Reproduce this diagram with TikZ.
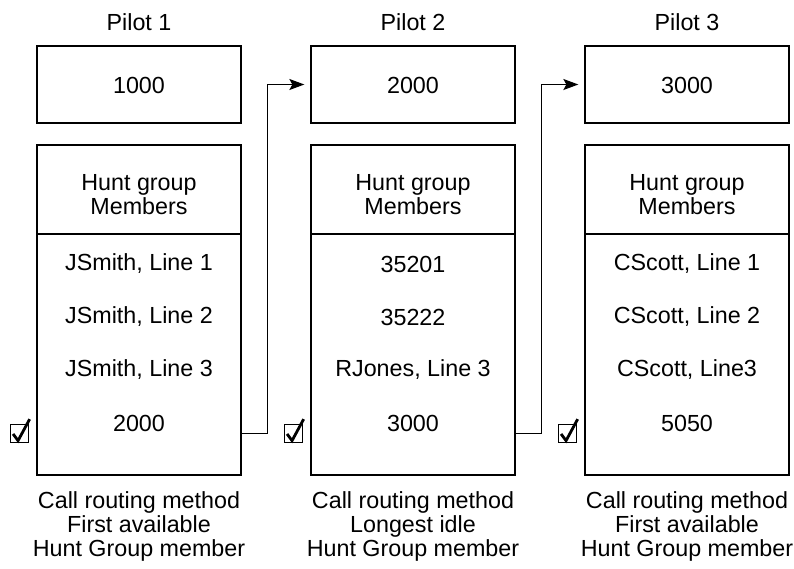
\documentclass[tikz,border=0pt]{standalone}
\usepackage{fontspec}
\setmainfont{Liberation Sans}
\usetikzlibrary{arrows.meta}
\tikzset{
  frame/.style={draw, line width=1.3pt, minimum width=204pt, inner sep=0pt},
  lbl/.style={font=\fontsize{23.3}{24}\selectfont, align=center, inner sep=0pt},
  route/.style={line width=1.3pt, -{Stealth[length=15pt,width=11pt,inset=3pt]}, shorten >=6pt},
  chkbox/.pic={
    \draw[line width=1pt] (0,0) rectangle (18,-18);
    \draw[line width=2.8pt, line join=miter] (2.7,-8.7) -- (7.7,-2) -- (19.3,-23.5);
  }
}
\begin{document}
\begin{tikzpicture}[x=1pt, y=-1pt]
    \useasboundingbox (0,0) rectangle (794,568);

    % Pilot 1
    \node[lbl] (t1) at (139,22) {Pilot 1};
    \node[frame, minimum height=77pt] (p1) at (139,84.5) {};
    \node[lbl] (n1) at (139,85) {1000};
    \node[frame, minimum height=89pt] (h1) at (139,189.5) {};
    \node[lbl] (g1) at (139,195) {Hunt group\\Members};
    \node[frame, minimum height=241pt] (l1) at (139,354.5) {};
    \node[lbl] (m11) at (139,264) {JSmith, Line 1};
    \node[lbl] (m12) at (139,317) {JSmith, Line 2};
    \node[lbl] (m13) at (139,370) {JSmith, Line 3};
    \node[lbl] (m14) at (139,423) {2000};
    \pic at ([xshift=-26pt,yshift=33pt]l1.south west) {chkbox};
    \node[lbl] (c1) at (139,526) {Call routing method\\First available\\Hunt Group member};

    % Pilot 2
    \node[lbl] (t2) at (413,22) {Pilot 2};
    \node[frame, minimum height=77pt] (p2) at (413,84.5) {};
    \node[lbl] (n2) at (413,85) {2000};
    \node[frame, minimum height=89pt] (h2) at (413,189.5) {};
    \node[lbl] (g2) at (413,195) {Hunt group\\Members};
    \node[frame, minimum height=241pt] (l2) at (413,354.5) {};
    \node[lbl] (m21) at (413,264) {35201};
    \node[lbl] (m22) at (413,317) {35222};
    \node[lbl] (m23) at (413,370) {RJones, Line 3};
    \node[lbl] (m24) at (413,423) {3000};
    \pic at ([xshift=-26pt,yshift=33pt]l2.south west) {chkbox};
    \node[lbl] (c2) at (413,526) {Call routing method\\Longest idle\\Hunt Group member};

    % Pilot 3
    \node[lbl] (t3) at (687,22) {Pilot 3};
    \node[frame, minimum height=77pt] (p3) at (687,84.5) {};
    \node[lbl] (n3) at (687,85) {3000};
    \node[frame, minimum height=89pt] (h3) at (687,189.5) {};
    \node[lbl] (g3) at (687,195) {Hunt group\\Members};
    \node[frame, minimum height=241pt] (l3) at (687,354.5) {};
    \node[lbl] (m31) at (687,264) {CScott, Line 1};
    \node[lbl] (m32) at (687,317) {CScott, Line 2};
    \node[lbl] (m33) at (687,370) {CScott, Line3};
    \node[lbl] (m34) at (687,423) {5050};
    \pic at ([xshift=-26pt,yshift=33pt]l3.south west) {chkbox};
    \node[lbl] (c3) at (687,526) {Call routing method\\First available\\Hunt Group member};

    % overflow routing
    \draw[route] ([yshift=42pt]l1.south east) -- ++(26,0) |- (p2.west);
    \draw[route] ([yshift=42pt]l2.south east) -- ++(26,0) |- (p3.west);
\end{tikzpicture}
\end{document}
